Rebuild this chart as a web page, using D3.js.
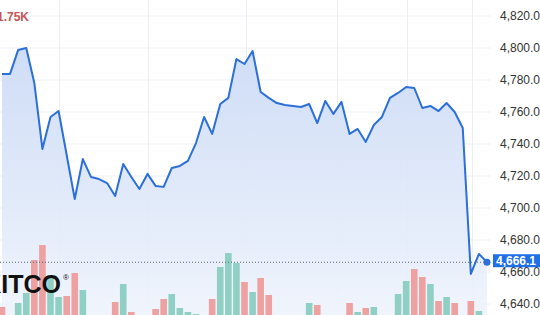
<!DOCTYPE html>
<html><head><meta charset="utf-8">
<script src="https://cdn.jsdelivr.net/npm/d3@7"></script>
<style>html,body{margin:0;padding:0;background:#fff;overflow:hidden}svg{display:block}</style>
</head><body>
<svg id="c" width="540" height="315"></svg>
<script>
// ---- data ----
const prevClose = 4786.3;
const prices = [4783.8,4783.8,4798.8,4800.0,4778.1,4736.9,4756.9,4760.6,4733.1,4705.6,
  4730.6,4719.4,4718.1,4715.6,4707.5,4727.5,4719.4,4711.9,4721.3,4713.8,
  4713.2,4725.0,4726.3,4729.4,4740.6,4756.9,4746.3,4765.0,4768.8,4793.1,
  4790.0,4798.1,4772.5,4768.8,4765.6,4764.4,4763.8,4763.1,4765.0,4753.1,
  4766.9,4758.8,4766.3,4746.3,4749.4,4741.3,4751.9,4756.9,4768.8,4771.9,
  4775.6,4775.0,4762.5,4763.8,4760.6,4765.6,4760.0,4750.0,4658.8,4671.3,4666.1];
const volumes = [220,40,300,500,1160,1460,820,420,440,900,
  560,40,40,40,320,680,120,40,40,180,
  380,480,200,120,80,40,380,1020,1300,1100,
  720,520,800,460,40,40,40,40,300,260,
  40,40,40,300,120,200,220,40,40,480,
  740,980,820,680,340,420,300,40,340,140,40];
const priceTicks = [4640,4660,4680,4700,4720,4740,4760,4780,4800,4820];
const timeGridIdx = [7.05,18.05,30.2,41.45,50.1,58.15];
const lastLabel = "4,666.1";
const volLabel = "1.75K";
const logoText = "KITCO";

// ---- chart ----
const W = 540, H = 315;
const svg = d3.select("#c");
const x = d3.scaleLinear().domain([0, prices.length - 1]).range([2, 487]);
const y = d3.scaleLinear().domain([4640, 4820]).range([304, 16]);
const yv = d3.scaleLinear().domain([0, 1760]).range([318, 230]);
const plotRight = 490;

// gradient
const defs = svg.append("defs");
const g1 = defs.append("linearGradient").attr("id","ag").attr("gradientUnits","userSpaceOnUse")
  .attr("x1",0).attr("x2",0).attr("y1",48).attr("y2",315);
g1.append("stop").attr("offset",0).attr("stop-color","#ccdbf6").attr("stop-opacity",0.95);
g1.append("stop").attr("offset",1).attr("stop-color","#eef3fc").attr("stop-opacity",0.9);

// horizontal grid
svg.append("g").selectAll("line").data(priceTicks).join("line")
  .attr("x1",0).attr("x2",plotRight).attr("y1",d=>y(d)).attr("y2",d=>y(d))
  .attr("stroke","#eceff3").attr("stroke-width",1);
// vertical grid
svg.append("g").selectAll("line").data(timeGridIdx).join("line")
  .attr("x1",d=>Math.round(x(d))+0.5).attr("x2",d=>Math.round(x(d))+0.5).attr("y1",0).attr("y2",H)
  .attr("stroke","#eceff3").attr("stroke-width",1);

// area
const area = d3.area().x((d,i)=>x(i)).y0(H).y1(d=>y(d));
svg.append("path").datum(prices).attr("d",area).attr("fill","url(#ag)");

// volume bars
const bw = 6.6;
svg.append("g").selectAll("rect").data(volumes).join("rect")
  .attr("x",(d,i)=>x(i)-bw/2).attr("width",bw)
  .attr("y",d=>yv(d)).attr("height",d=>yv(0)-yv(d))
  .attr("fill",(d,i)=>{const p = i===0?prevClose:prices[i-1]; return prices[i] >= p ? "#8fcfc4" : "#eea1a1";});

// dotted last-price line
const last = prices[prices.length-1];
svg.append("line").attr("x1",0).attr("x2",plotRight).attr("y1",y(last)).attr("y2",y(last))
  .attr("stroke","#51627a").attr("stroke-width",1).attr("stroke-dasharray","1,2");

// price line
const line = d3.line().x((d,i)=>x(i)).y(d=>y(d));
svg.append("path").datum(prices).attr("d",line).attr("fill","none")
  .attr("stroke","#2b6fd8").attr("stroke-width",2).attr("stroke-linejoin","round");
svg.append("circle").attr("cx",x(prices.length-1)).attr("cy",y(last)).attr("r",3.5).attr("fill","#2b6fd8");

// y axis labels
const axis = d3.axisRight(y).tickValues(priceTicks).tickFormat(d3.format(",.2f")).tickSize(0).tickPadding(0);
const ag = svg.append("g").attr("transform","translate(500,0)").call(axis);
ag.select(".domain").remove();
ag.selectAll("text").attr("fill","#333").attr("font-family","'Liberation Sans',Arial,sans-serif").attr("font-size","12px");

// last price tag
const ty = y(last) - 1;
svg.append("rect").attr("x",493).attr("y",ty-7).attr("width",60).attr("height",13).attr("fill","#1f6fe5");
svg.append("text").attr("x",496).attr("y",ty+4.2).text(lastLabel)
  .attr("fill","#fff").attr("font-family","'Liberation Sans',Arial,sans-serif").attr("font-size","12px").attr("font-weight","bold");

// volume label
svg.append("text").attr("x",-3).attr("y",21).text(volLabel)
  .attr("fill","#c65656").attr("font-family","'Liberation Sans',Arial,sans-serif").attr("font-size","12px").attr("font-weight","bold");

// logo
svg.append("text").attr("x",61).attr("y",293).attr("text-anchor","end").text(logoText)
  .attr("fill","#111").attr("font-family","'Liberation Sans',Arial,sans-serif").attr("font-size","25px").attr("font-weight","bold");
svg.append("text").attr("x",63).attr("y",280).text("®")
  .attr("fill","#111").attr("font-family","'Liberation Sans',Arial,sans-serif").attr("font-size","8px");
</script>
</body></html>
